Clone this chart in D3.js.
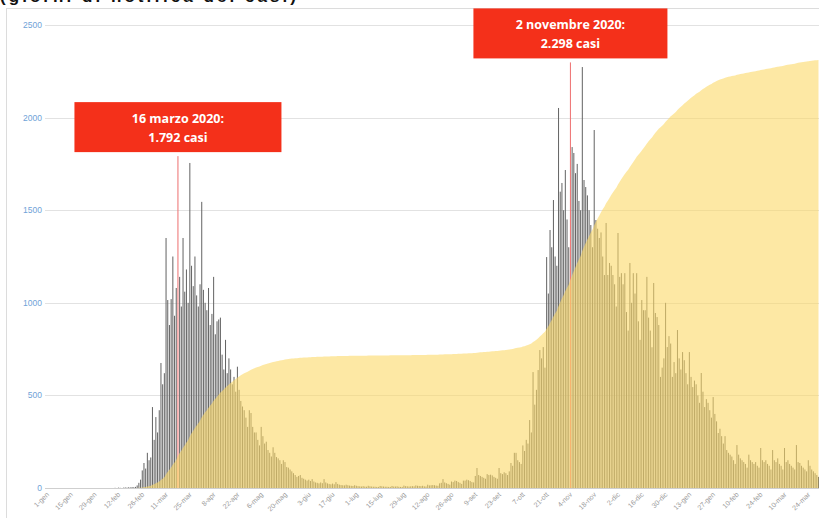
<!DOCTYPE html>
<html><head><meta charset="utf-8">
<script src="https://cdn.jsdelivr.net/npm/d3@7"></script>
<style>html,body{margin:0;padding:0;background:#fff;overflow:hidden}</style>
</head><body>
<svg id="chart" width="819" height="518"></svg>
<script>
// ---- data: daily cases (one array per month), from 1 Jan 2020 ----
const gen20 = [0,0,0,0,0,0,0,0,0,0,0,0,0,0,0,0,0,0,0,0,0,0,0,0,0,0,0,0,0,0,0];
const feb20 = [0,0,0,0,0,0,0,1,0,2,1,0,2,3,2,4,3,5,4,6,14,28,45,95,135,105,190,150,165];
const mar20 = [437,260,383,300,420,675,560,620,1350,1015,880,1020,1250,930,1080,1792,1140,980,1350,1060,1180,1000,1755,1200,1090,1250,1040,980,1100,1545,1070];
const apr20 = [1000,960,1080,880,940,1140,830,900,910,920,720,640,800,620,700,640,560,600,520,655,530,470,440,420,380,330,420,405,330,300];
const mag20 = [300,260,230,330,280,240,250,205,190,170,220,190,167,160,150,130,150,140,113,110,100,90,80,70,60,65,70,55,50,45,40];
const giu20 = [45,38,48,35,30,28,25,30,26,48,30,25,22,20,24,20,32,22,18,16,15,14,18,15,13,12,11,15,12,10];
const lug20 = [9,8,10,8,7,12,9,8,7,7,6,6,11,9,8,7,7,6,6,11,8,8,9,7,6,6,13,10,9,8,9];
const ago20 = [10,9,14,12,11,10,12,9,8,18,14,15,16,15,13,12,25,28,48,30,26,22,18,35,32,40,38,32,28,22,40];
const set20 = [40,45,42,38,32,30,65,108,70,65,60,55,50,75,70,72,68,60,55,50,108,80,75,85,80,70,90,135,120,190];
const ott20 = [190,150,140,130,230,200,260,240,367,300,626,450,530,637,745,700,761,650,1247,1050,1393,1300,1555,1250,1200,2052,1600,1647,1500,1717,1450];
const nov20 = [1300,2298,1841,1809,1700,1750,1550,1500,2273,1663,1625,1580,1500,1420,1300,1933,1447,1400,1350,1380,1250,1150,1431,1150,1215,1200,1150,1100,980,1377];
const dic20 = [1140,1160,1100,1160,950,850,1215,1000,1160,1050,1160,900,800,1015,960,960,1140,920,850,760,1107,945,923,880,600,650,700,1000,761,820,780];
const gen21 = [600,680,620,853,700,640,734,690,620,560,734,600,545,580,560,500,460,621,520,437,480,460,420,380,491,400,360,297,320,280,240];
const feb21 = [280,205,190,180,170,150,130,232,180,160,150,140,130,110,180,150,140,130,140,120,110,216,150,140,150,130,120,100];
const mar21 = [205,150,140,160,130,120,100,216,140,150,130,120,110,100,232,140,135,120,110,100,90,150,120,100,90,80,70,60];

const startDate = Date.UTC(2020, 0, 1);
const yTicks = [0, 500, 1000, 1500, 2000, 2500];
const tickLabels = ["1-gen","15-gen","29-gen","12-feb","26-feb","11-mar","25-mar","8-apr","22-apr","6-mag","20-mag","3-giu","17-giu","1-lug","15-lug","29-lug","12-ago","26-ago","9-set","23-set","7-ott","21-ott","4-nov","18-nov","2-dic","16-dic","30-dic","13-gen","27-gen","10-feb","24-feb","10-mar","24-mar"];
const tickEveryDays = 14;
const annotations = [
  {date: Date.UTC(2020, 2, 16), line1: "16 marzo 2020:", line2: "1.792 casi"},
  {date: Date.UTC(2020, 10, 2), line1: "2 novembre 2020:", line2: "2.298 casi"}
];
const titleText = "(giorni di notifica dei casi)";

// ---- build ----
const values = [].concat(gen20, feb20, mar20, apr20, mag20, giu20, lug20, ago20, set20, ott20, nov20, dic20, gen21, feb21, mar21);
const dates = values.map((v, i) => +d3.utcDay.offset(new Date(startDate), i));
const rows = dates.map((d, i) => ({date: d, value: values[i]}));
const cum = d3.cumsum(values);

const svg = d3.select("#chart");
const plotL = 45, plotR = 819, y0px = 488, yTop = 25;

const x = d3.scaleBand().domain(dates).range([50, 819]).paddingInner(0.4).paddingOuter(0);
const y = d3.scaleLinear().domain([0, 2500]).range([y0px, yTop]);
const y2 = d3.scaleLinear().domain([0, 200000]).range([y0px, yTop]);

// title (clipped at top as in the reference)
svg.append("text").attr("x", 0).attr("y", 2)
  .attr("font-family", "Liberation Sans, Arial, sans-serif").attr("font-weight", "bold")
  .attr("font-size", 17).attr("fill", "#111")
  .attr("textLength", 296).attr("lengthAdjust", "spacing")
  .text(titleText);

// frame
svg.append("rect").attr("x", 6.5).attr("y", 8.5).attr("width", 830).attr("height", 530)
  .attr("fill", "#fff").attr("stroke", "#dcdcdc");

// gridlines
svg.append("g").selectAll("line").data(yTicks).join("line")
  .attr("x1", plotL).attr("x2", plotR)
  .attr("y1", d => Math.round(y(d)) + 0.5).attr("y2", d => Math.round(y(d)) + 0.5)
  .attr("stroke", d => d === 0 ? "#cfcfcf" : "#e2e2e2").attr("stroke-width", 1);

// y labels
svg.append("g").selectAll("text").data(yTicks).join("text")
  .attr("x", 42).attr("y", d => y(d)).attr("dy", "0.35em")
  .attr("text-anchor", "end").attr("font-family", "Liberation Sans, Arial, sans-serif")
  .attr("font-size", 8.5).attr("fill", "#6fa3d8").text(d => d);

// bars
const hl = new Set(annotations.map(a => a.date));
svg.append("g").selectAll("rect").data(rows).join("rect")
  .attr("x", d => x(d.date)).attr("width", x.bandwidth())
  .attr("y", d => y(d.value)).attr("height", d => y0px - y(d.value))
  .attr("fill", d => hl.has(d.date) ? "#ee7272" : "#666666");

// cumulative area (secondary axis), semi-transparent over bars
const area = d3.area()
  .x(d => x(d.date) + x.bandwidth() / 2)
  .y0(y0px)
  .y1((d, i) => y2(cum[i]));
svg.append("path").datum(rows).attr("d", area)
  .attr("fill", "#fcd868").attr("fill-opacity", 0.6);

// x axis labels
const tickDates = tickLabels.map((t, i) => +d3.utcDay.offset(new Date(startDate), i * tickEveryDays));
svg.append("g").selectAll("text").data(tickDates).join("text")
  .attr("transform", d => `translate(${x(d) + x.bandwidth() / 2 - 1},${y0px + 7}) rotate(-45)`)
  .attr("text-anchor", "end").attr("font-family", "Liberation Sans, Arial, sans-serif")
  .attr("font-size", 7).attr("fill", "#9a9a9a")
  .text((d, i) => tickLabels[i]);

// annotations
const boxW = [207, 194], boxH = 50;
annotations.forEach((a, k) => {
  const v = values[dates.indexOf(a.date)];
  const cx = x(a.date) + x.bandwidth() / 2;
  const bottom = y(v) - 4;
  const g = svg.append("g");
  g.append("rect").attr("x", cx - boxW[k] / 2).attr("y", bottom - boxH)
    .attr("width", boxW[k]).attr("height", boxH).attr("fill", "#f4301a");
  [a.line1, a.line2].forEach((t, j) => {
    g.append("text").attr("x", cx).attr("y", bottom - boxH + 21 + j * 19)
      .attr("text-anchor", "middle").attr("font-family", "Open Sans, Liberation Sans, sans-serif")
      .attr("font-weight", "bold").attr("font-size", 12.5).attr("fill", "#fff").text(t);
  });
});
</script>
</body></html>
